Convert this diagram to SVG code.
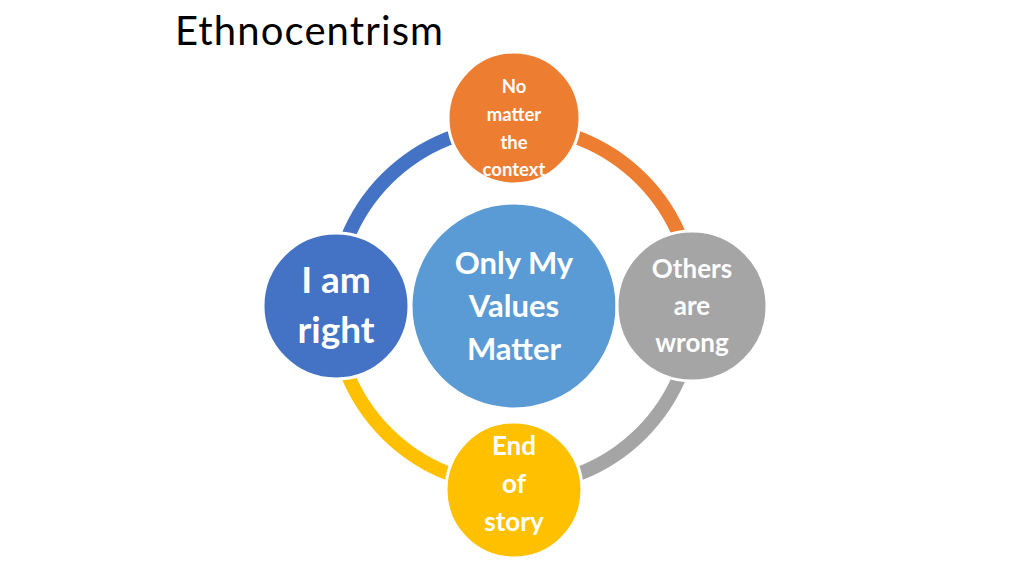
<svg xmlns="http://www.w3.org/2000/svg" width="1024" height="576" viewBox="0 0 1024 576">
<style>
.arc{fill:none;stroke-width:14}
.n{stroke:#fff;stroke-width:3}
.t{font-family:Lato,"Open Sans",sans-serif;font-weight:bold;fill:#fff;text-anchor:middle}
</style>
<rect width="1024" height="576" fill="#fff"/>
<text x="175" y="45" font-family="Lato,'Open Sans',sans-serif" font-size="40" textLength="268" fill="#000">Ethnocentrism</text>
<g id="connectors">
<path class="arc" stroke="#4472C4" d="M514 126 A180 180 0 0 0 334 306"/>
<path class="arc" stroke="#ED7D31" d="M514 126 A180 180 0 0 1 694 306"/>
<path class="arc" stroke="#A5A5A5" d="M694 306 A180 180 0 0 1 514 486"/>
<path class="arc" stroke="#FFC000" d="M514 486 A180 180 0 0 1 334 306"/>
</g>
<g id="center"><circle class="n" cx="514" cy="306" r="103" fill="#5B9BD5"/>
<text class="t" font-size="31"><tspan x="514" y="274">Only My</tspan><tspan x="514" y="317">Values</tspan><tspan x="514" y="360">Matter</tspan></text></g>
<g id="top"><circle class="n" cx="514" cy="118" r="66" fill="#ED7D31"/>
<text class="t" font-size="18.5"><tspan x="514" y="93">No</tspan><tspan x="514" y="121">matter</tspan><tspan x="514" y="149">the</tspan><tspan x="514" y="176">context</tspan></text></g>
<g id="left"><circle class="n" cx="336" cy="306" r="73" fill="#4472C4"/>
<text class="t" font-size="37"><tspan x="336" y="293">I am</tspan><tspan x="336" y="343">right</tspan></text></g>
<g id="right"><circle class="n" cx="692" cy="306" r="75" fill="#A5A5A5"/>
<text class="t" font-size="26"><tspan x="692" y="278">Others</tspan><tspan x="692" y="315">are</tspan><tspan x="692" y="352">wrong</tspan></text></g>
<g id="bottom"><circle class="n" cx="514" cy="490" r="68" fill="#FFC000"/>
<text class="t" font-size="26"><tspan x="514" y="455">End</tspan><tspan x="514" y="493">of</tspan><tspan x="514" y="531">story</tspan></text></g>
</svg>
